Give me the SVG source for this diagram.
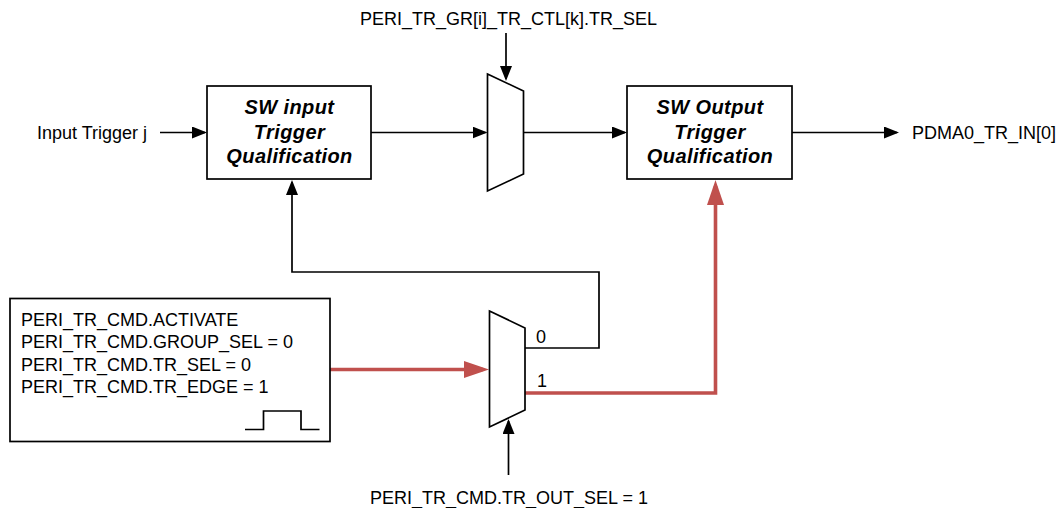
<svg xmlns="http://www.w3.org/2000/svg" width="1062" height="508" viewBox="0 0 1062 508">
<style>
  text { font-family: "Liberation Sans", Arial, sans-serif; font-size: 18px; fill: #000; }
  .title { font-size: 20px; font-weight: bold; font-style: italic; letter-spacing: 0.4px; text-anchor: middle; }
  .box { fill: #fff; stroke: #000; stroke-width: 1.7; }
  .wire { fill: none; stroke: #000; stroke-width: 1.7; }
  .red { fill: none; stroke: #C0504D; stroke-width: 3.6; }
  .mid { text-anchor: middle; }
</style>
<defs>
  <marker id="ab" markerUnits="userSpaceOnUse" markerWidth="15" markerHeight="12" refX="13" refY="6" orient="auto">
    <path d="M0,0 L15,6 L0,12 Z" fill="#000"/>
  </marker>
  <marker id="ar" markerUnits="userSpaceOnUse" markerWidth="25" markerHeight="17" refX="19" refY="8.5" orient="auto">
    <path d="M0,0 L25,8.5 L0,17 Z" fill="#C0504D"/>
  </marker>
</defs>
<rect width="1062" height="508" fill="#fff"/>

<g id="connectors">
  <line class="wire" x1="160" y1="132.5" x2="205" y2="132.5" marker-end="url(#ab)"/>
  <line class="wire" x1="371" y1="132.5" x2="485.5" y2="132.5" marker-end="url(#ab)"/>
  <line class="wire" x1="523.5" y1="132.5" x2="625" y2="132.5" marker-end="url(#ab)"/>
  <line class="wire" x1="792" y1="132.5" x2="897" y2="132.5" marker-end="url(#ab)"/>
  <line class="wire" x1="506" y1="33" x2="506" y2="79" marker-end="url(#ab)"/>
  <path class="wire" d="M525,348 H599 V272 H292 V182" marker-end="url(#ab)"/>
  <line class="wire" x1="508.5" y1="475" x2="508.5" y2="421" marker-end="url(#ab)"/>
  <path class="red" d="M330,369.5 H483" marker-end="url(#ar)"/>
  <path class="red" d="M525,393 H715.5 V186" marker-end="url(#ar)"/>
</g>

<g id="input-label"><text x="37" y="139">Input Trigger j</text></g>

<g id="sw-input">
  <rect class="box" x="207" y="86" width="164" height="93"/>
  <text class="title" x="289.5" y="113.5">SW input</text>
  <text class="title" x="289.5" y="138.5">Trigger</text>
  <text class="title" x="289.5" y="163">Qualification</text>
</g>

<g id="mux1">
  <polygon class="box" points="487.5,74 523.5,91 523.5,174 487.5,191"/>
</g>
<g id="mux1-sel-label"><text class="mid" x="508.5" y="25">PERI_TR_GR[i]_TR_CTL[k].TR_SEL</text></g>

<g id="sw-output">
  <rect class="box" x="627" y="86" width="165" height="93"/>
  <text class="title" x="710" y="113.5">SW Output</text>
  <text class="title" x="710" y="138.5">Trigger</text>
  <text class="title" x="710" y="163">Qualification</text>
</g>

<g id="output-label"><text x="912" y="139">PDMA0_TR_IN[0]</text></g>

<g id="cmd-box">
  <rect class="box" x="10" y="298.5" width="320" height="143"/>
  <text x="21" y="326">PERI_TR_CMD.ACTIVATE</text>
  <text x="21" y="348">PERI_TR_CMD.GROUP_SEL = 0</text>
  <text x="21" y="370.5">PERI_TR_CMD.TR_SEL = 0</text>
  <text x="21" y="392.5">PERI_TR_CMD.TR_EDGE = 1</text>
  <path class="wire" d="M245,429.5 H263.5 V411 H301 V429.5 H319.5"/>
</g>

<g id="mux2">
  <polygon class="box" points="489.5,311 525,328 525,410 489.5,427"/>
  <text x="536" y="343">0</text>
  <text x="537" y="387">1</text>
</g>
<g id="mux2-sel-label"><text class="mid" x="509" y="504">PERI_TR_CMD.TR_OUT_SEL = 1</text></g>
</svg>
